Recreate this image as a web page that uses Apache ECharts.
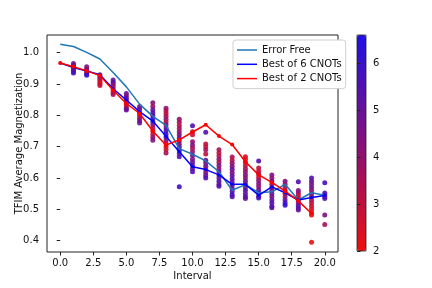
<!DOCTYPE html>
<html>
<head>
<meta charset="utf-8">
<script src="https://cdn.jsdelivr.net/npm/echarts@6/dist/echarts.min.js"></script>
<style>html,body{margin:0;padding:0;background:#fff}#c{width:432px;height:288px}</style>
</head>
<body>
<div id="c"></div>
<script>
const intervals = [0,1,2,3,4,5,6,7,8,9,10,11,12,13,14,15,16,17,18,19,20];
const errorFree = [1.027,1.020,1.001,0.980,0.937,0.891,0.836,0.797,0.768,0.694,0.676,0.655,0.620,0.561,0.579,0.553,0.556,0.580,0.530,0.553,0.545];
const best6 = [0.967,0.953,0.942,0.930,0.885,0.849,0.812,0.782,0.733,0.684,0.636,0.627,0.610,0.580,0.580,0.545,0.572,0.553,0.530,0.538,0.544];
const best2 = [0.967,0.955,0.942,0.927,0.880,0.838,0.806,0.750,0.705,0.722,0.747,0.770,0.734,0.707,0.652,0.610,0.586,0.558,0.527,0.487];
const sampleY = [
  [],
  [0.966,0.960,0.955,0.950,0.945,0.940,0.935],
  [0.955,0.948,0.942,0.937,0.932,0.928],
  [0.930,0.924,0.918,0.912,0.906,0.900,0.895],
  [0.913,0.906,0.899,0.892,0.885,0.878,0.872,0.867],
  [0.870,0.862,0.855,0.848,0.841,0.834,0.827,0.821,0.817],
  [0.828,0.820,0.812,0.805,0.798,0.790,0.783,0.776],
  [0.840,0.828,0.817,0.808,0.800,0.790,0.780,0.770,0.760,0.750,0.740,0.730,0.721],
  [0.823,0.815,0.806,0.797,0.788,0.779,0.770,0.760,0.750,0.740,0.730,0.720,0.710,0.700,0.690,0.680],
  [0.788,0.778,0.768,0.758,0.748,0.738,0.728,0.718,0.708,0.698,0.688,0.678,0.668,0.572],
  [0.767,0.748,0.738,0.716,0.705,0.695,0.684,0.672,0.660,0.650,0.640,0.630,0.620],
  [0.746,0.709,0.700,0.690,0.677,0.657,0.648,0.638,0.628,0.618,0.608,0.600],
  [0.690,0.680,0.670,0.660,0.650,0.640,0.630,0.620,0.610,0.600,0.590,0.580,0.574],
  [0.667,0.657,0.647,0.637,0.627,0.617,0.607,0.597,0.587,0.577,0.567,0.557,0.547,0.540],
  [0.668,0.660,0.650,0.640,0.630,0.620,0.610,0.600,0.590,0.580,0.570,0.560,0.550,0.540,0.535],
  [0.654,0.632,0.622,0.612,0.602,0.592,0.582,0.572,0.562,0.552,0.542,0.536],
  [0.610,0.600,0.590,0.580,0.570,0.560,0.550,0.540,0.530,0.520,0.510,0.505],
  [0.590,0.580,0.570,0.560,0.550,0.540,0.530,0.520,0.513],
  [0.588,0.560,0.552,0.544,0.536,0.528,0.520,0.512,0.504,0.498],
  [0.600,0.590,0.580,0.570,0.560,0.550,0.540,0.530,0.520,0.510,0.500,0.490,0.482,0.395],
  [0.585,0.552,0.546,0.540,0.535,0.482,0.452]
];
const sampleC = [
  [],
  [4.5,5,4,3,5.5,5,5.8],
  [4.5,4,5,3.5,5.5,6],
  [4.5,5,4,3,2.5,2.3,2.8],
  [5,5.5,4.5,4,3,2.5,2.3,3.5],
  [5,4.5,5.5,4,3.5,3,2.5,4.5,5],
  [4.5,5,3.5,3,2.5,4,4.5,5],
  [4.2,4,5,5.5,5,6,5.5,4.5,3.5,2.5,3,4,4.5],
  [4,3.5,3,3.5,4,3,4.5,5,5.5,6,5.5,4.5,3,2.2,2.5,3.5],
  [4,3.5,3,3.5,4,4.5,5,4,4.5,5,5.5,5,5.5,5.8],
  [5.5,3,2.8,4,4.5,3.5,4,5,4.5,5,5.5,5,5.5],
  [5.5,3,2.8,3.5,3,5,4.5,5,4,4.5,5,5.5],
  [3.5,3,3.2,4,3.5,4.5,4,5,4.5,5,5.5,5,5.5],
  [3.5,3,4,4.5,5,4.5,5,5.5,5,4.5,5,5.5,5.8,5.5],
  [2.5,2.3,3,2.8,3.5,4,4.5,4,5,4.5,5,5.5,5,5.5,5],
  [5.5,3,2.8,3.5,3,4,4.5,4,5,5.5,5,5.8],
  [4.5,4,5,4,3.5,4.5,5,4.5,5,5.5,5,5.5],
  [4.5,4,3.5,3,2.8,4,5,6,6.2],
  [5.5,4.5,4,3,2.8,3.5,4.5,5,5.5,5],
  [5.5,5,4.5,5,4,4.5,4,3.5,3,2.8,2.5,2.3,2.2,2],
  [5.8,5.5,6,5,5.5,4.5,3.5]
];
const xTicks = [0,2.5,5,7.5,10,12.5,15,17.5,20];
const yTicks = [0.4,0.5,0.6,0.7,0.8,0.9,1.0];
const cbTicks = [2,3,4,5,6];
const seriesNames = ['Error Free','Best of 6 CNOTs','Best of 2 CNOTs'];

const scatterData = [];
intervals.forEach((x,i)=>{ sampleY[i].forEach((y,j)=>scatterData.push([x,y,sampleC[i][j]])); });
const pair = (arr)=>arr.map((v,i)=>[intervals[i],v]);

const font = 'DejaVu Sans';
const txt = {color:'#111', fontFamily:font, fontSize:10};
const chart = echarts.init(document.getElementById('c'), null, {renderer:'canvas'});
chart.setOption({
  animation:false,
  backgroundColor:'#fff',
  grid:[
    {left:47, right:94, top:35, bottom:36, show:true, borderColor:'#222', borderWidth:1, backgroundColor:'transparent'},
    {left:357, width:9, top:35, height:216, show:true, borderColor:'#222', borderWidth:0.8, backgroundColor:'transparent', z:10}
  ],
  xAxis:[
    {type:'value', gridIndex:0, min:-1, max:21, name:'Interval', nameLocation:'middle', nameGap:19, nameTextStyle:txt, nameMoveOverlap:false,
     axisLine:{show:false}, splitLine:{show:false},
     axisTick:{show:true, length:3.5, lineStyle:{color:'#222'}, customValues:xTicks},
     axisLabel:{...txt, margin:6, customValues:xTicks, formatter:v=>v.toFixed(1)}},
    {type:'value', gridIndex:1, show:false, min:0, max:1}
  ],
  yAxis:[
    {type:'value', gridIndex:0, min:0.3639, max:1.0566, name:'TFIM Average Magnetization', nameLocation:'middle', nameGap:23, nameTextStyle:txt, nameMoveOverlap:false,
     axisLine:{show:false}, splitLine:{show:false},
     axisTick:{show:true, length:3.5, lineStyle:{color:'#222'}, customValues:yTicks},
     axisLabel:{...txt, margin:8, customValues:yTicks, formatter:v=>v.toFixed(1)}},
    {type:'value', gridIndex:1, position:'right', min:2, max:6.6, z:10,
     axisLine:{show:false}, splitLine:{show:false},
     axisTick:{show:true, length:3.5, lineStyle:{color:'#222'}, customValues:cbTicks},
     axisLabel:{...txt, margin:7, customValues:cbTicks, formatter:v=>String(v)}}
  ],
  visualMap:{type:'continuous', seriesIndex:0, dimension:2, min:2, max:6.6, calculable:false,
    orient:'vertical', left:357, top:35, itemWidth:9, itemHeight:216, padding:0, text:null, hoverLink:false,
    inRange:{color:['#ec1010','#2010e6']}},
  legend:{left:233, top:40, orient:'vertical', padding:[4,4,4,4], itemGap:2.3, itemWidth:20, itemHeight:1.5,
    backgroundColor:'#fff', borderColor:'#d0d0d0', borderWidth:1, borderRadius:3,
    textStyle:{...txt, lineHeight:12},
    data:seriesNames.map(n=>({name:n, icon:'rect'}))},
  series:[
    {type:'scatter', name:'samples', xAxisIndex:0, yAxisIndex:0, data:scatterData, symbolSize:5, itemStyle:{opacity:0.9}, z:1},
    {type:'line', name:seriesNames[0], data:pair(errorFree), showSymbol:false, symbol:'none', lineStyle:{color:'#1f77b4', width:1.5}, itemStyle:{color:'#1f77b4'}, z:2},
    {type:'line', name:seriesNames[1], data:pair(best6), symbol:'circle', symbolSize:3, lineStyle:{color:'#0000ff', width:1.5}, itemStyle:{color:'#0000ff'}, z:3},
    {type:'line', name:seriesNames[2], data:pair(best2), symbol:'circle', symbolSize:4, lineStyle:{color:'#ff0000', width:1.5}, itemStyle:{color:'#ff0000'}, z:4}
  ]
});
</script>
</body>
</html>
